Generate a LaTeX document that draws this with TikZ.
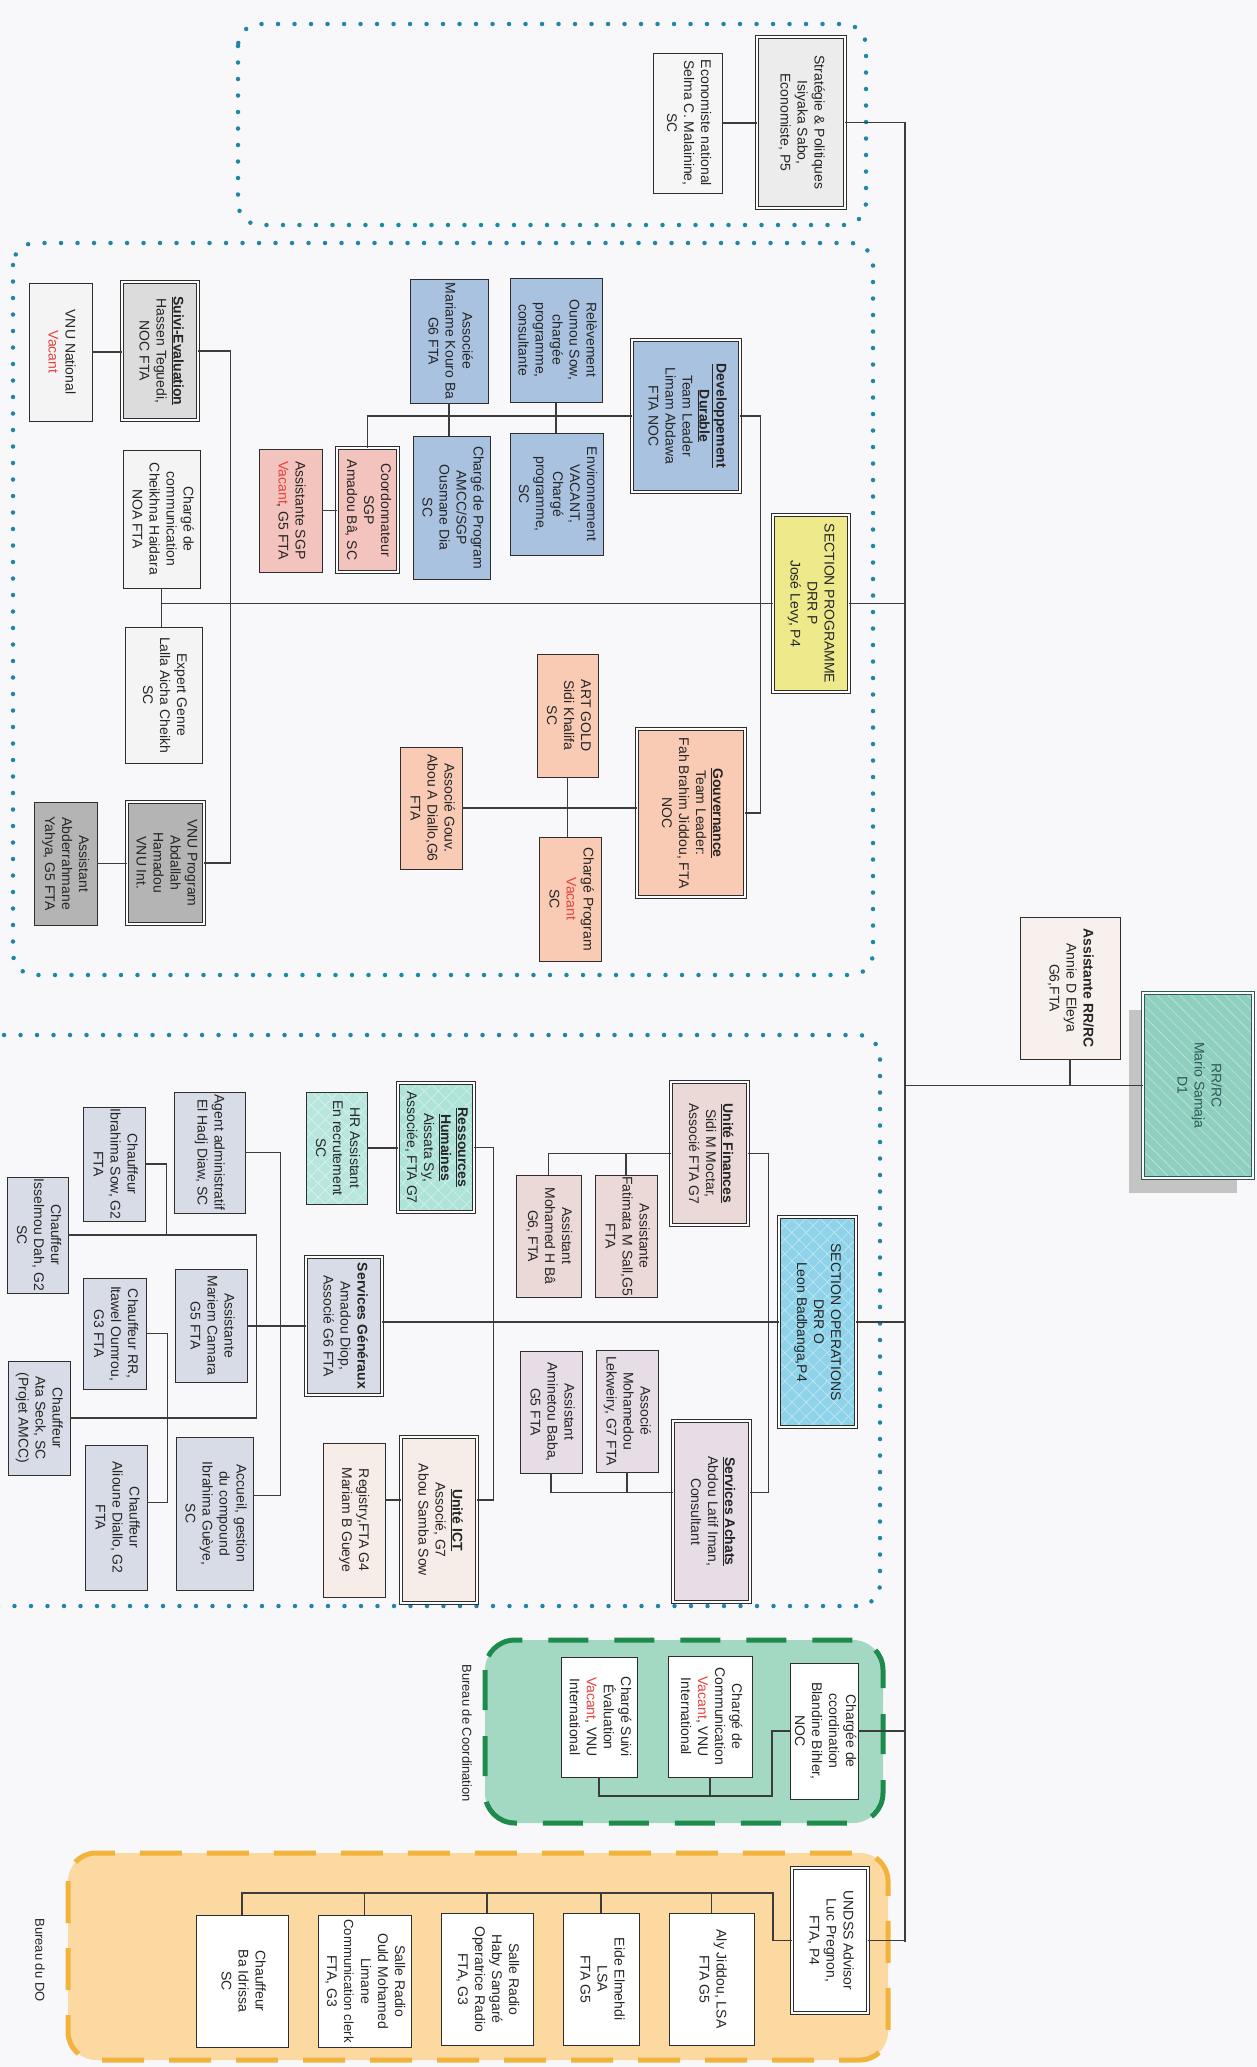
\documentclass[tikz,border=0pt]{standalone}
\usepackage{fontspec}
\usepackage{graphicx}
\setmainfont{Liberation Sans}
\usetikzlibrary{patterns.meta,calc}
\definecolor{bgc}{HTML}{F8F8FA}
\definecolor{bord}{HTML}{2E2E2E}
\definecolor{lnc}{HTML}{3C3C3C}
\definecolor{dotc}{HTML}{1F86A6}
\definecolor{gdash}{HTML}{1E8A4C}
\definecolor{gfill}{HTML}{A3D9C3}
\definecolor{odash}{HTML}{F2B33D}
\definecolor{ofill}{HTML}{FCD9A0}
\definecolor{cstrat}{HTML}{ECECEC}
\definecolor{cecon}{HTML}{F6F6F6}
\definecolor{cyellow}{HTML}{EEEA8C}
\definecolor{cblue}{HTML}{A8C2DF}
\definecolor{cpink}{HTML}{F3C3BE}
\definecolor{csalmon}{HTML}{F9CBB4}
\definecolor{clight}{HTML}{F4F4F4}
\definecolor{cgrayA}{HTML}{DCDCDC}
\definecolor{cgrayB}{HTML}{B4B4B4}
\definecolor{cops}{HTML}{8ED3EA}
\definecolor{cfin}{HTML}{EBD9D7}
\definecolor{cach}{HTML}{E7DDE7}
\definecolor{crh}{HTML}{AEE3DA}
\definecolor{crhb}{HTML}{B8E6DE}
\definecolor{cict}{HTML}{F6EDE8}
\definecolor{csg}{HTML}{D8DCE6}
\definecolor{rrfill}{HTML}{8FCFBF}
\definecolor{rrbord}{HTML}{2F5A5A}
\definecolor{shadowc}{HTML}{C4C4C4}
\definecolor{cass}{HTML}{F7F0EC}
\definecolor{vred}{HTML}{E8413B}
\definecolor{txt}{HTML}{252525}
\newcommand{\rtx}[1]{\rotatebox{-90}{\begin{tabular}{@{}c@{}}#1\end{tabular}}}
\newcommand{\vacx}{\textcolor{vred}{Vacant}}
\newcommand{\bul}[1]{\underline{\textbf{#1}}}
\newcommand{\obox}[7]{\node[#6, minimum width={(#4-#2)*1pt}, minimum height={(#5-#3)*1pt}] (#1) at ({(#2+#4)/2},{(#3+#5)/2}) {\rtx{#7}};}
\tikzset{
  bx/.style={draw=bord, line width=0.9pt, inner sep=0pt, text=txt, font=\fontsize{14}{17}\selectfont},
  dbl/.style={bx, double=white, double distance=1.8pt},
  xhatch/.style={preaction={fill=#1},
    preaction={pattern={Lines[angle=45,distance=10pt,line width=0.5pt]}, pattern color=white!55!#1},
    pattern={Lines[angle=-45,distance=10pt,line width=0.5pt]}, pattern color=white!55!#1},
  conn/.style={draw=lnc, line width=1.1pt},
  dotframe/.style={draw=dotc, line width=4.5pt, line cap=round, dash pattern=on 0pt off 16.5pt, rounded corners=22pt},
  lbl/.style={inner sep=0pt, text=txt, font=\fontsize{13}{16}\selectfont}
}
\begin{document}
\begin{tikzpicture}[x=1pt,y=-1pt]
\useasboundingbox (0,0) rectangle (1257,2067);
\fill[bgc] (0,0) rectangle (1257,2067);
\clip (0,0) rectangle (1257,2067);
% frames
\draw[dotframe] (238,24) rectangle (866,225);
\draw[dotframe] (13,243) rectangle (873,975);
\draw[dotframe] (-40,1035) rectangle (880,1606);
\draw[draw=gdash, fill=gfill, line width=5pt, dash pattern=on 40pt off 26pt, rounded corners=30pt] (485,1640) rectangle (883,1823);
\draw[draw=odash, fill=ofill, line width=5pt, dash pattern=on 42pt off 25pt, rounded corners=28pt] (68,1853) rectangle (888,2060);
\node[lbl] (lbco) at (467,1733) {\rotatebox{-90}{Bureau de Coordination}};
\node[lbl] (lbdo) at (40,1960) {\rotatebox{-90}{Bureau du DO}};
\coordinate (trunkT) at (905,122);
\coordinate (trunkB) at (905,1942);
% top group
\obox{strat}{757}{37}{845}{208}{dbl,fill=cstrat}{Stratégie \& Politiques\\Isiyaka Sabo,\\Economiste, P5}
\obox{econ}{653}{53}{722}{193}{bx,fill=cecon}{Economiste national\\Selma C. Malainine,\\SC}
% programme
\obox{prog}{773}{515}{849}{692}{dbl,fill=cyellow}{SECTION PROGRAMME\\DRR P\\José Levy, P4}
\obox{devd}{632}{340}{740}{492}{dbl,fill=cblue}{\bul{Developpement}\\\bul{Durable}\\Team Leader\\Limam Abdawa\\FTA NOC}
\obox{relev}{510}{278}{602}{402}{bx,fill=cblue}{Relèvement\\Oumou Sow,\\chargée\\programme,\\consultante}
\obox{mariame}{410}{279}{488}{403}{bx,fill=cblue}{Associée\\Mariame Kouro Ba\\G6 FTA}
\obox{envir}{510}{433}{603}{555}{bx,fill=cblue}{Environnement\\VACANT,\\Chargé\\programme,\\SC}
\obox{amcc}{413}{436}{490}{579}{bx,fill=cblue}{Chargé de Program\\AMCC/SGP\\Ousmane Dia\\SC}
\obox{coord}{337}{448}{398}{572}{dbl,fill=cpink}{Coordonnateur\\SGP\\Amadou Bâ, SC}
\obox{asgp}{259}{449}{322}{572}{bx,fill=cpink}{Assistante SGP\\\vacx, G5 FTA}
\obox{gouv}{637}{729}{745}{897}{dbl,fill=csalmon}{\bul{Gouvernance}\\Team Leader:\\Fah Brahim Jiddou, FTA\\NOC}
\obox{artgold}{537}{654}{598}{777}{bx,fill=csalmon}{ART GOLD\\Sidi Khalifa\\SC}
\obox{cprog}{539}{837}{601}{961}{bx,fill=csalmon}{Chargé Program\\\vacx\\SC}
\obox{agouv}{400}{747}{462}{869}{bx,fill=csalmon}{Associé Gouv.\\Abou A Diallo,G6\\FTA}
\obox{comm}{123}{450}{200}{588}{bx,fill=clight}{Chargé de\\communication\\Cheikhna Haidara\\NOA FTA}
\obox{genre}{125}{627}{202}{763}{bx,fill=clight}{Expert Genre\\Lalla Aicha Cheikh\\SC}
\obox{suivi}{122}{282}{198}{420}{dbl,fill=cgrayA}{\bul{Suivi-Evaluation}\\Hassen Teguedi,\\NOC FTA}
\obox{vnun}{29}{283}{92}{421}{bx,fill=clight}{VNU National\\\vacx}
\obox{vnup}{127}{802}{204}{924}{dbl,fill=cgrayB}{VNU Program\\Abdallah\\Hamadou\\VNU Int.}
\obox{vnua}{34}{802}{97}{925}{bx,fill=cgrayB}{Assistant\\Abderrahmane\\Yahya, G5 FTA}
% operations
\obox{ops}{779}{1217}{856}{1427}{dbl,xhatch=cops}{SECTION OPERATIONS\\DRR O\\Leon Badbanga,P4}
\obox{fin}{671}{1082}{748}{1225}{dbl,fill=cfin}{\bul{Unité Finances}\\Sidi M Moctar,\\Associé FTA G7}
\obox{fatim}{595}{1175}{657}{1297}{bx,fill=cfin}{Assistante\\Fatimata M Sall,G5\\FTA}
\obox{moham}{516}{1175}{581}{1297}{bx,fill=cfin}{Assistant\\Mohamed H Bâ\\G6, FTA}
\obox{achats}{673}{1421}{750}{1602}{dbl,fill=cach}{\bul{Services Achats}\\Abdou Latif Iman,\\Consultant}
\obox{mohdou}{596}{1350}{658}{1472}{bx,fill=cach}{Associé\\Mohamedou\\Lekweiry, G7 FTA}
\obox{amin}{520}{1351}{582}{1473}{bx,fill=cach}{Assistant\\Aminetou Baba,\\G5 FTA}
\obox{rh}{398}{1083}{474}{1212}{dbl,xhatch=crh}{\bul{Ressources}\\\bul{Humaines}\\Aissata Sy,\\Associée, FTA G7}
\obox{hras}{306}{1092}{367}{1204}{bx,xhatch=crhb}{HR Assistant\\En recrutement\\SC}
\obox{ict}{401}{1437}{477}{1603}{dbl,fill=cict}{\bul{Unité ICT}\\Associé, G7\\Abou Samba Sow}
\obox{regis}{323}{1443}{385}{1597}{bx,fill=cict}{Registry,FTA G4\\Mariam B Gueye}
\obox{sg}{306}{1257}{382}{1395}{dbl,fill=csg}{\textbf{Services Généraux}\\Amadou Diop,\\Associé G6 FTA}
\obox{agent}{174}{1092}{245}{1213}{bx,fill=csg}{Agent administratif\\El Hadj Diaw, SC}
\obox{mariem}{175}{1269}{247}{1382}{bx,fill=csg}{Assistante\\Mariem Camara\\G5 FTA}
\obox{accueil}{176}{1437}{253}{1590}{bx,fill=csg}{Accueil, gestion\\du compound\\Ibrahima Guèye,\\SC}
\obox{isow}{83}{1107}{145}{1221}{bx,fill=csg}{Chauffeur\\Ibrahima Sow, G2\\FTA}
\obox{issel}{7}{1177}{68}{1293}{bx,fill=csg}{Chauffeur\\Isselmou Dah, G2\\SC}
\obox{itawel}{83}{1278}{146}{1389}{bx,fill=csg}{Chauffeur RR,\\Itawel Oumrou,\\G3 FTA}
\obox{ata}{8}{1361}{70}{1475}{bx,fill=csg}{Chauffeur\\Ata Seck, SC\\(Projet AMCC)}
\obox{alioune}{85}{1445}{147}{1590}{bx,fill=csg}{Chauffeur\\Alioune Diallo, G2\\FTA}
% coordination
\obox{cc}{790}{1663}{858}{1799}{bx,fill=white}{Chargée de\\ccordination\\Blandine Bihler,\\NOC}
\obox{ccom}{668}{1656}{752}{1777}{bx,fill=white}{Chargé de\\Communication\\\vacx, VNU\\International}
\obox{csuiv}{561}{1657}{637}{1777}{bx,fill=white}{Chargé Suivi\\Évaluation\\\vacx, VNU\\International}
% DO
\obox{undss}{792}{1868}{868}{2013}{dbl,fill=white}{UNDSS Advisor\\Luc Pregnon,\\FTA, P4}
\obox{aly}{669}{1913}{754}{2045}{bx,fill=white}{Aly Jiddou, LSA\\FTA G5}
\obox{eide}{563}{1913}{639}{2045}{bx,fill=white}{Eide Elmehdi\\LSA\\FTA G5}
\obox{haby}{441}{1913}{533}{2045}{bx,fill=white}{Salle Radio\\Haby Sangaré\\Operatrice Radio\\FTA, G3}
\obox{ould}{318}{1915}{411}{2047}{bx,fill=white}{Salle Radio\\Ould Mohamed\\Limane\\{\fontsize{13.2}{17}\selectfont Communication clerk}\\FTA, G3}
\obox{chba}{196}{1915}{288}{2047}{bx,fill=white}{Chauffeur\\Ba Idrissa\\SC}
% RR
\fill[shadowc] (1129,1010) rectangle (1237,1193);
\obox{rr}{1143}{993}{1253}{1178}{dbl,draw=rrbord,text=rrbord,preaction={fill=rrfill},pattern={Lines[angle=-45,distance=8pt,line width=0.6pt]},pattern color=white!45!rrfill}{RR/RC\\Mario Samaja\\D1}
\obox{arr}{1020}{917}{1120}{1059}{bx,fill=cass}{\textbf{Assistante RR/RC}\\Annie D Eleya\\G6,FTA}
% connectors
\draw[conn] (trunkT) -- (trunkB);
\draw[conn] (strat.east) -- (strat.east -| trunkT);
\draw[conn] (econ.east) -- (econ.east -| strat.west);
\draw[conn] (prog.east) -- (prog.east -| trunkT);
\draw[conn] (prog.west) -- (prog.west -| comm.south);
\draw[conn] (comm.south) -- (comm.south |- genre.north);
\draw[conn] (suivi.east) -- ++(32,0) |- (vnup.east);
\draw[conn] (vnun.east) -- (vnun.east -| suivi.west);
\draw[conn] (vnua.east) -- (vnua.east -| vnup.west);
\draw[conn] (devd.east) -- ++(20,0) |- (gouv.east);
\draw[conn] (devd.west) -| (coord.north);
\draw[conn] (mariame.south) -- (mariame.south |- amcc.north);
\draw[conn] (relev.south) -- (relev.south |- envir.north);
\draw[conn] (asgp.east) -- (asgp.east -| coord.west);
\draw[conn] (agouv.east) -- (agouv.east -| gouv.west);
\draw[conn] (artgold.south) -- (artgold.south |- cprog.north);
\draw[conn] (ops.east) -- (ops.east -| trunkT);
\draw[conn] (ops.west) -- (ops.west -| sg.east);
\coordinate (achR) at ([yshift=19pt]achats.east);
\coordinate (achL) at ([yshift=19pt]achats.west);
\draw[conn] (fin.east) -- ++(20,0) |- (achR);
\draw[conn] (fin.west) -| (moham.north);
\draw[conn] (fatim.north) -- (fatim.north |- fin.west);
\draw[conn] (achL) -| (amin.south);
\draw[conn] (mohdou.south) -- (mohdou.south |- achL);
\coordinate (ictR) at ([yshift=20pt]ict.east);
\coordinate (ictL) at ([yshift=20pt]ict.west);
\draw[conn] (rh.east) -- ++(19,0) |- (ictR);
\draw[conn] (hras.east) -- (hras.east -| rh.west);
\draw[conn] (ictL) -- (ictL -| regis.east);
\draw[conn] (sg.west) -- (sg.west -| mariem.east);
\draw[conn] (agent.east) -- ++(35,0) |- ([yshift=18pt]accueil.east);
\draw[conn] (issel.east) -- ++(188,0) |- (ata.east);
\draw[conn] (isow.east) -- ++(21,0) |- (issel.east);
\draw[conn] (itawel.east) -- ++(21,0) |- ([yshift=15pt]alioune.east);
\draw[conn] (rr.west) -- (rr.west -| trunkT);
\draw[conn] (arr.south) -- (arr.south |- rr.west);
\draw[conn] (cc.east) -- (cc.east -| trunkT);
\coordinate (ccb) at (772,1796);
\draw[conn] (cc.west) -| (ccb) -| (csuiv.south);
\draw[conn] (ccom.south) -- (ccom.south |- ccb);
\draw[conn] (undss.east) -- (undss.east -| trunkT);
\coordinate (dob) at (773,1893);
\draw[conn] (undss.west) -| (dob) -| (chba.north);
\foreach \n in {aly,eide,haby,ould} {\draw[conn] (\n.north) -- (\n.north |- dob);}
\end{tikzpicture}
\end{document}
